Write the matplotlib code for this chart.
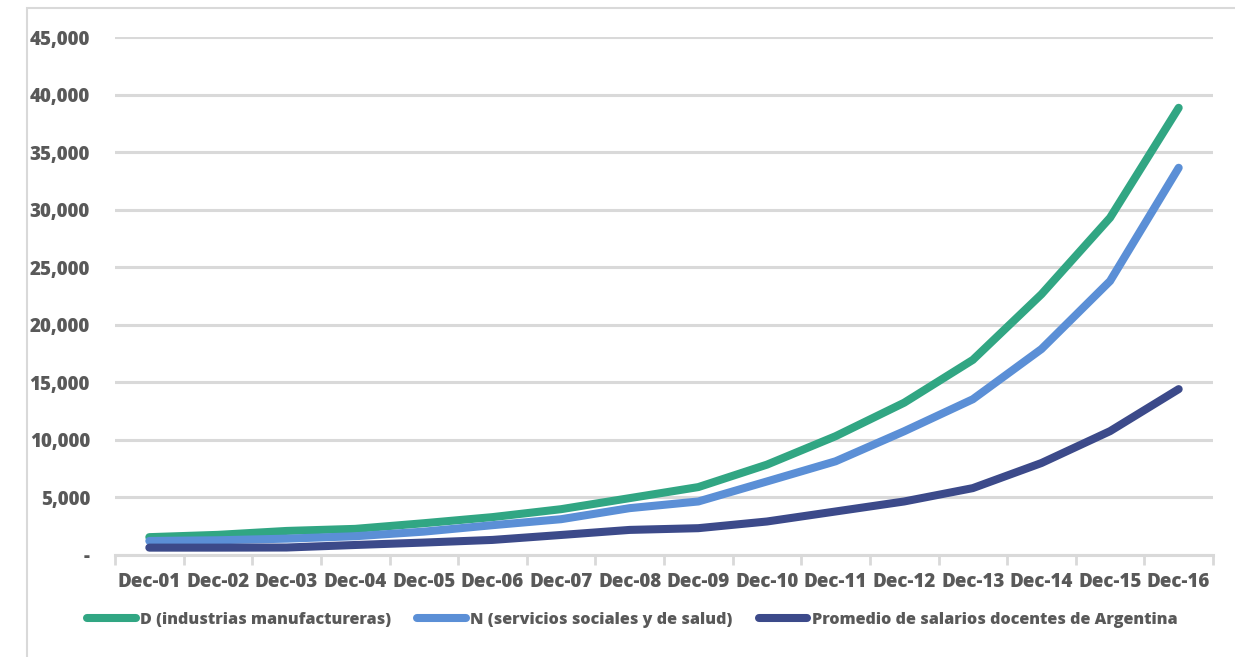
import matplotlib.pyplot as plt
from matplotlib.patches import Rectangle
from matplotlib.ticker import FuncFormatter, FixedLocator

plt.rcParams["font.family"] = ["Open Sans", "DejaVu Sans"]

periods = ["Dec-01", "Dec-02", "Dec-03", "Dec-04", "Dec-05", "Dec-06", "Dec-07", "Dec-08",
           "Dec-09", "Dec-10", "Dec-11", "Dec-12", "Dec-13", "Dec-14", "Dec-15", "Dec-16"]
industria = [1550, 1750, 2090, 2270, 2760, 3290, 3980, 4940,
             5900, 7850, 10320, 13230, 16950, 22650, 29300, 38850]
salud = [1220, 1280, 1420, 1630, 2030, 2590, 3110, 4070,
         4650, 6390, 8140, 10750, 13530, 17890, 23800, 33640]
docentes = [640, 640, 650, 870, 1080, 1310, 1740, 2180,
            2330, 2910, 3780, 4650, 5810, 7990, 10760, 14410]
series_names = ["D (industrias manufactureras)",
                "N (servicios sociales y de salud)",
                "Promedio de salarios docentes de Argentina"]
colors = ["#31A683", "#5B8FD6", "#3C4A8A"]

TEXT = "#595959"
GRID = "#D9D9D9"

fig = plt.figure(figsize=(12.35, 6.57), dpi=100)
fig.patches.append(Rectangle((27 / 1235, -0.01), 1.0, 1 - 8 / 657 + 0.01, transform=fig.transFigure,
                             fill=False, edgecolor=GRID, linewidth=1.5))
ax = fig.add_axes([115 / 1235, 1 - 555 / 657, (1213 - 115) / 1235, (555 - 37) / 657])

x = list(range(len(periods)))
handles = []
for vals, name, col in zip([industria, salud, docentes], series_names, colors):
    (h,) = ax.plot(x, vals, color=col, linewidth=5.8, solid_capstyle="round",
                   solid_joinstyle="miter", label=name, zorder=3)
    handles.append(h)

ax.set_xlim(-0.5, len(periods) - 0.5)
ax.set_ylim(0, 45000)
ax.set_yticks(range(0, 45001, 5000))
ax.yaxis.set_major_formatter(FuncFormatter(lambda v, _: "-" if v == 0 else f"{int(v):,}"))
ax.grid(axis="y", color=GRID, linewidth=2.2, zorder=0)
ax.set_axisbelow(True)

ax.set_xticks(x)
ax.set_xticklabels(periods)
ax.xaxis.set_minor_locator(FixedLocator([i - 0.5 for i in range(len(periods) + 1)]))
ax.tick_params(axis="x", which="major", length=0, pad=12)
ax.tick_params(axis="x", which="minor", length=7, width=2, color=GRID, direction="out")
ax.tick_params(axis="y", length=0, pad=18)

for lbl in ax.get_xticklabels() + ax.get_yticklabels():
    lbl.set_fontweight("heavy")
    lbl.set_color(TEXT)
    lbl.set_fontsize(13.5)

for side in ["top", "right", "left"]:
    ax.spines[side].set_visible(False)
ax.spines["bottom"].set_color(GRID)
ax.spines["bottom"].set_linewidth(2.2)

leg = fig.legend(handles=handles, loc="center", bbox_to_anchor=(0.512, 1 - 620 / 657), ncol=3,
                 frameon=False, handlelength=3.0, handletextpad=0.3, columnspacing=1.6,
                 prop={"weight": "heavy", "size": 11.6})
for t in leg.get_texts():
    t.set_color(TEXT)

fig.savefig("out.png", dpi=100)
